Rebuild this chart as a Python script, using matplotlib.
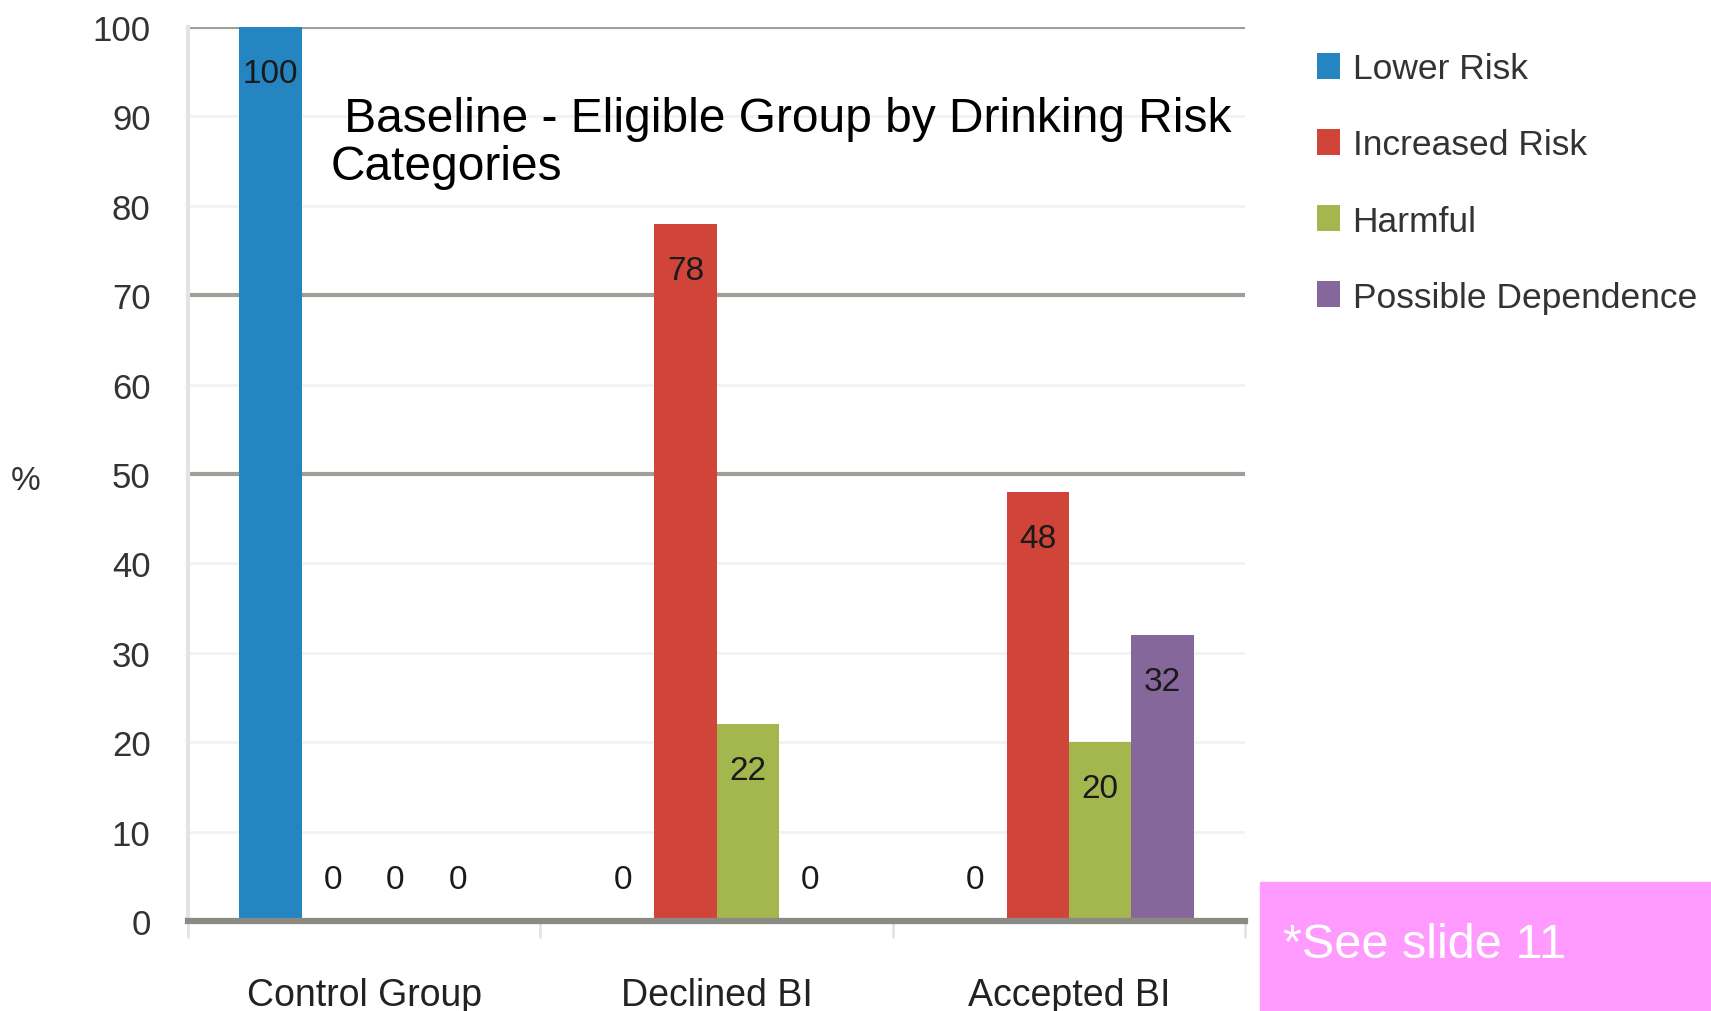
import matplotlib
matplotlib.use('Agg')
import matplotlib.pyplot as plt
import numpy as np

# data
groups = ['Control Group', 'Declined BI', 'Accepted BI']
series = ['Lower Risk', 'Increased Risk', 'Harmful', 'Possible Dependence']
lower_risk = [100, 0, 0]
increased_risk = [0, 78, 48]
harmful = [0, 22, 20]
possible_dependence = [0, 0, 32]
colors = ['#2585c0', '#d0443a', '#a3b74e', '#85679b']
yticks = [0, 10, 20, 30, 40, 50, 60, 70, 80, 90, 100]

values = [lower_risk, increased_risk, harmful, possible_dependence]

plt.rcParams['font.family'] = ['Liberation Sans', 'DejaVu Sans']
fig = plt.figure(figsize=(17.11, 10.12), dpi=100)
ax = fig.add_axes([0.1099, 0.0889, 0.6178, 0.8834])

x = np.arange(len(groups))
w = 0.177
for i, (name, vals, c) in enumerate(zip(series, values, colors)):
    pos = x + (i - 1.5) * w
    ax.bar(pos, vals, width=w, color=c, label=name, zorder=3)
    for p, v in zip(pos, vals):
        ypos = v - 5.2 if v > 0 else 4.7
        ax.text(p, ypos, str(v), ha='center', va='center', fontsize=24,
                color='#1a1a1a', zorder=4)

ax.set_xlim(-0.5, 2.5)
ax.set_ylim(0, 100)
ax.set_yticks(yticks)
ax.set_yticklabels([str(t) for t in yticks], fontsize=25, color='#333333')
ax.tick_params(axis='y', length=0, pad=27)

# gridlines: light ones, heavier ones at 50, 70, 100
for t in yticks:
    if t in (50, 70, 100):
        ax.axhline(t, color='#a09e99', lw=3, zorder=1)
    elif t != 0:
        ax.axhline(t, color='#f2f2f2', lw=2, zorder=1)
ax.axhline(0, color='#8c8a85', lw=4.5, zorder=5, clip_on=False)

for s in ['top', 'right', 'bottom']:
    ax.spines[s].set_visible(False)
ax.spines['left'].set_color('#e3e3e3')
ax.spines['left'].set_linewidth(3)

# category separator ticks
ax.set_xticks([-0.5, 0.5, 1.5, 2.5], minor=True)
ax.tick_params(axis='x', which='minor', length=12, width=2, color='#e3e3e3')
ax.set_xticks(x)
ax.set_xticklabels(groups, fontsize=27, color='#222222')
ax.tick_params(axis='x', which='major', length=0, pad=40)

fig.text(26 / 1711, 1 - 482 / 1012, '%', fontsize=24, color='#333333',
         ha='center', va='center')

ax.text(0.135, 0.871, ' Baseline - Eligible Group by Drinking Risk\nCategories',
        transform=ax.transAxes, fontsize=34.5, color='black', ha='left', va='center',
        linespacing=1.1, zorder=6)

leg = fig.legend(loc='upper left', bbox_to_anchor=(1303 / 1711, 1 - 39 / 1012),
                 frameon=False, fontsize=25.5, handlelength=0.65, handleheight=0.75,
                 handletextpad=0.35, labelspacing=1.22, borderaxespad=0)
for t in leg.get_texts():
    t.set_color('#333333')

fig.patches.append(plt.Rectangle((1260 / 1711, 0), 451 / 1711, 129 / 1012,
                                 transform=fig.transFigure, color='#ff9aff', zorder=0))
fig.text(1283 / 1711, 1 - 945 / 1012, '*See slide 11', fontsize=35, color='white',
         ha='left', va='center')

fig.savefig('out.png', dpi=100)
